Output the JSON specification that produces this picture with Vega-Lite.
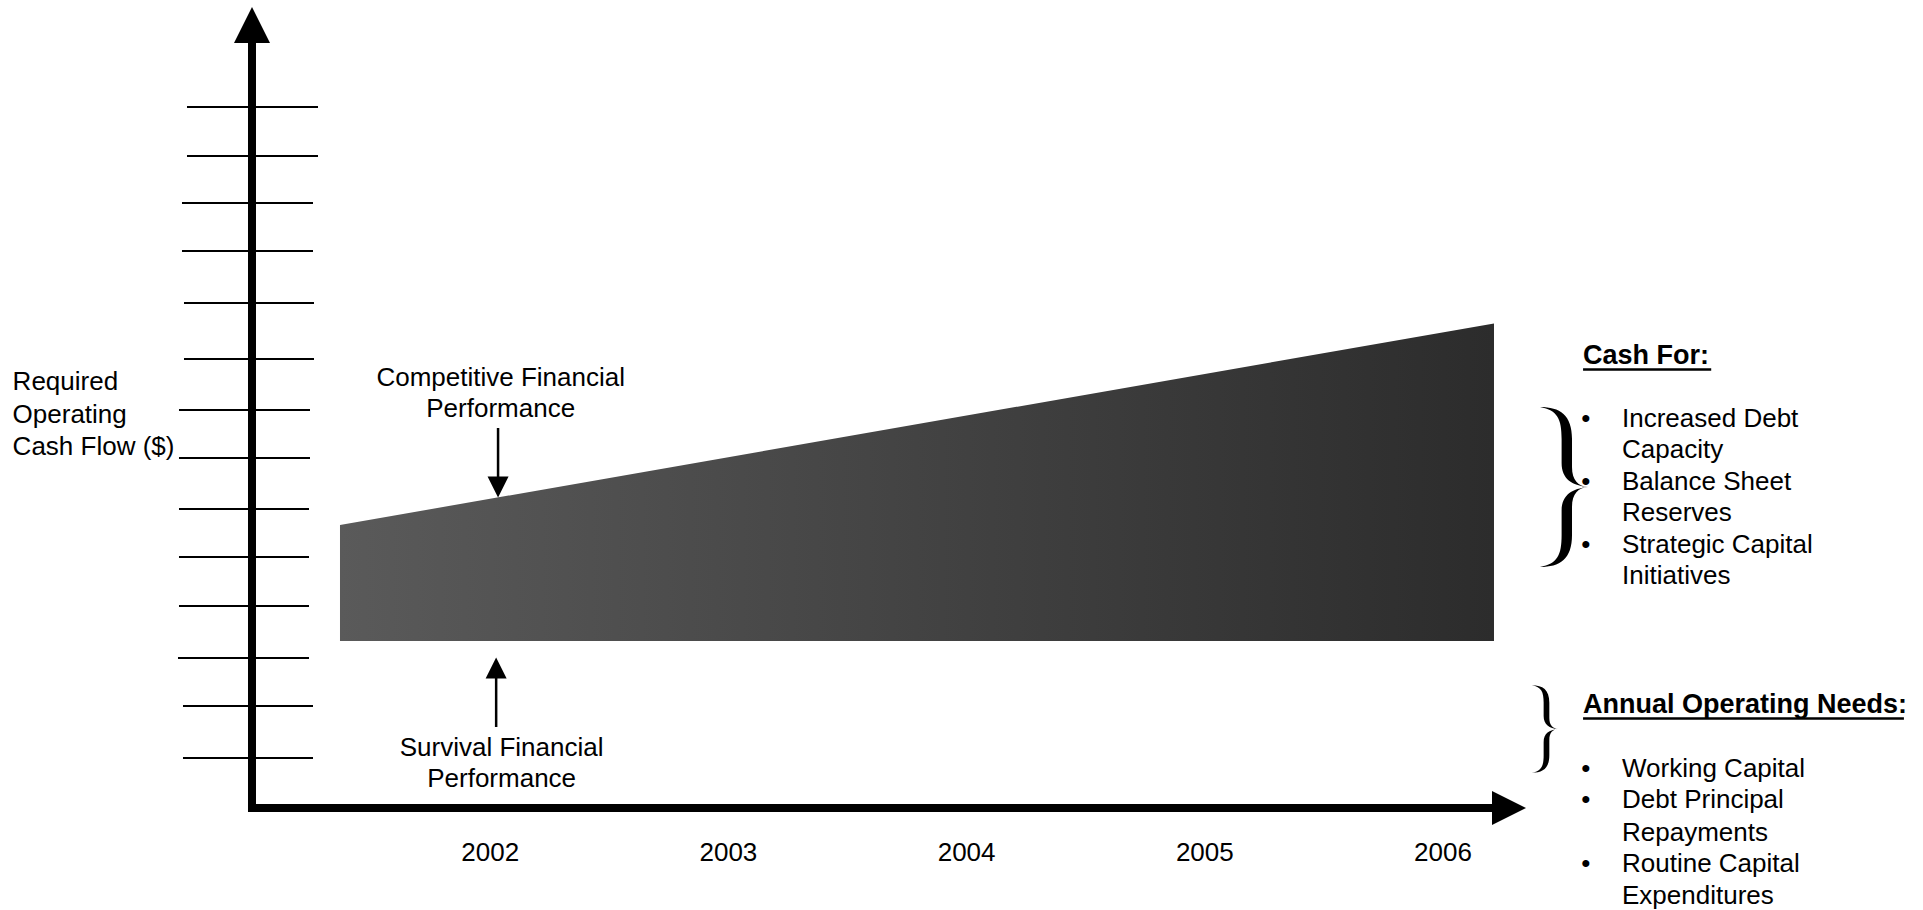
{
  "$schema": "https://vega.github.io/schema/vega-lite/v6.json",
  "width": 1923,
  "height": 910,
  "autosize": {"type": "fit", "contains": "padding"},
  "padding": 0,
  "background": "white",
  "config": {"view": {"stroke": null}},
  "datasets": {
    "ticks": [
      {"x": 2000.7271, "x2": 2001.2771, "y": 14.02},
      {"x": 2000.7271, "x2": 2001.2771, "y": 13.04},
      {"x": 2000.7061, "x2": 2001.2561, "y": 12.10},
      {"x": 2000.7061, "x2": 2001.2561, "y": 11.14},
      {"x": 2000.7145, "x2": 2001.2603, "y": 10.10},
      {"x": 2000.7145, "x2": 2001.2603, "y": 8.98},
      {"x": 2000.6935, "x2": 2001.2435, "y": 7.96},
      {"x": 2000.6935, "x2": 2001.2435, "y": 7.00},
      {"x": 2000.6935, "x2": 2001.2393, "y": 5.98},
      {"x": 2000.6935, "x2": 2001.2393, "y": 5.02},
      {"x": 2000.6935, "x2": 2001.2393, "y": 4.04},
      {"x": 2000.6893, "x2": 2001.2393, "y": 3.00},
      {"x": 2000.7103, "x2": 2001.2561, "y": 2.04},
      {"x": 2000.7103, "x2": 2001.2561, "y": 1.00}
    ],
    "band": [
      {"x": 2001.3694, "y": 5.66, "y2": 3.34},
      {"x": 2006.2141, "y": 9.69, "y2": 3.34}
    ],
    "axes": [
      {"x": 2001, "y": 0, "x2": 2001, "y2": 15.3},
      {"x": 2001, "y": 0, "x2": 2006.206, "y2": 0}
    ],
    "shafts": [
      {"x": 2002.033, "y": 7.6, "x2": 2002.033, "y2": 6.62},
      {"x": 2002.025, "y": 2.66, "x2": 2002.025, "y2": 1.62}
    ],
    "underlines": [
      {"x": 2006.588, "y": 8.77, "x2": 2007.126, "y2": 8.77},
      {"x": 2006.588, "y": 1.79, "x2": 2007.935, "y2": 1.79}
    ],
    "headUp": [{"x": 2001, "y": 15.66}],
    "headRight": [{"x": 2006.277, "y": 0}],
    "arrowDown": [{"x": 2002.033, "y": 6.42}],
    "arrowUp": [{"x": 2002.025, "y": 2.8}],
    "braceBig": [{"x": 2006.508, "y": 6.42}],
    "braceSmall": [{"x": 2006.428, "y": 1.58}],
    "centerText": [
      {"x": 2002.044, "y": 8.44, "text": "Competitive Financial"},
      {"x": 2002.044, "y": 7.82, "text": "Performance"},
      {"x": 2002.048, "y": 1.04, "text": "Survival Financial"},
      {"x": 2002.048, "y": 0.42, "text": "Performance"},
      {"x": 2002, "y": -1.06, "text": "2002"},
      {"x": 2003, "y": -1.06, "text": "2003"},
      {"x": 2004, "y": -1.06, "text": "2004"},
      {"x": 2005, "y": -1.06, "text": "2005"},
      {"x": 2006, "y": -1.06, "text": "2006"}
    ],
    "leftText": [
      {"x": 1999.995, "y": 8.36, "text": "Required"},
      {"x": 1999.995, "y": 7.70, "text": "Operating"},
      {"x": 1999.995, "y": 7.07, "text": "Cash Flow ($)"},
      {"x": 2006.7515, "y": 7.63, "text": "Increased Debt"},
      {"x": 2006.7515, "y": 7.01, "text": "Capacity"},
      {"x": 2006.7515, "y": 6.37, "text": "Balance Sheet"},
      {"x": 2006.7515, "y": 5.74, "text": "Reserves"},
      {"x": 2006.7515, "y": 5.10, "text": "Strategic Capital"},
      {"x": 2006.7515, "y": 4.48, "text": "Initiatives"},
      {"x": 2006.7515, "y": 0.62, "text": "Working Capital"},
      {"x": 2006.7515, "y": 0.0, "text": "Debt Principal"},
      {"x": 2006.7515, "y": -0.66, "text": "Repayments"},
      {"x": 2006.7515, "y": -1.28, "text": "Routine Capital"},
      {"x": 2006.7515, "y": -1.91, "text": "Expenditures"}
    ],
    "bullets": [
      {"x": 2006.58, "y": 7.63, "text": "•"},
      {"x": 2006.58, "y": 6.37, "text": "•"},
      {"x": 2006.58, "y": 5.10, "text": "•"},
      {"x": 2006.58, "y": 0.62, "text": "•"},
      {"x": 2006.58, "y": 0.0, "text": "•"},
      {"x": 2006.58, "y": -1.28, "text": "•"}
    ],
    "boldText": [
      {"x": 2006.588, "y": 8.88, "text": "Cash For:"},
      {"x": 2006.588, "y": 1.91, "text": "Annual Operating Needs:"}
    ]
  },
  "encoding": {
    "x": {"field": "x", "type": "quantitative", "scale": {"domain": [1999.94207, 2008.01511], "nice": false, "zero": false}, "axis": null},
    "y": {"field": "y", "type": "quantitative", "scale": {"domain": [-2.04, 16.16], "nice": false, "zero": false}, "axis": null}
  },
  "layer": [
    {
      "data": {"name": "band"},
      "mark": {"type": "area", "color": {"gradient": "linear", "x1": 0, "y1": 0, "x2": 1, "y2": 0, "stops": [{"offset": 0, "color": "#5a5a5a"}, {"offset": 1, "color": "#2c2c2c"}]}},
      "encoding": {"y2": {"field": "y2"}}
    },
    {
      "data": {"name": "ticks"},
      "mark": {"type": "rule", "color": "black", "strokeWidth": 2},
      "encoding": {"x2": {"field": "x2"}}
    },
    {
      "data": {"name": "axes"},
      "mark": {"type": "rule", "color": "black", "strokeWidth": 8, "strokeCap": "square"},
      "encoding": {"x2": {"field": "x2"}, "y2": {"field": "y2"}}
    },
    {
      "data": {"name": "shafts"},
      "mark": {"type": "rule", "color": "black", "strokeWidth": 2.5},
      "encoding": {"x2": {"field": "x2"}, "y2": {"field": "y2"}}
    },
    {
      "data": {"name": "underlines"},
      "mark": {"type": "rule", "color": "black", "strokeWidth": 2.5},
      "encoding": {"x2": {"field": "x2"}, "y2": {"field": "y2"}}
    },
    {
      "data": {"name": "headUp"},
      "mark": {"type": "point", "shape": "M0,-1L1,1L-1,1Z", "filled": true, "color": "black", "opacity": 1, "size": 1296},
      "encoding": {}
    },
    {
      "data": {"name": "headRight"},
      "mark": {"type": "point", "shape": "M1,0L-1,-1L-1,1Z", "filled": true, "color": "black", "opacity": 1, "size": 1156},
      "encoding": {}
    },
    {
      "data": {"name": "arrowDown"},
      "mark": {"type": "point", "shape": "M0,1L1,-1L-1,-1Z", "filled": true, "color": "black", "opacity": 1, "size": 441},
      "encoding": {}
    },
    {
      "data": {"name": "arrowUp"},
      "mark": {"type": "point", "shape": "M0,-1L1,1L-1,1Z", "filled": true, "color": "black", "opacity": 1, "size": 441},
      "encoding": {}
    },
    {
      "data": {"name": "braceBig"},
      "mark": {"type": "point", "shape": "M-0.3,-1C-0.05,-1,0.1,-0.9,0.1,-0.6L0.1,-0.25C0.1,-0.08,0.18,-0.01,0.3,0C0.18,0.01,0.1,0.08,0.1,0.25L0.1,0.6C0.1,0.9,-0.05,1,-0.3,1C-0.08,0.96,-0.03,0.85,-0.03,0.6L-0.03,0.3C-0.03,0.1,0.1,0.02,0.3,0C0.1,-0.02,-0.03,-0.1,-0.03,-0.3L-0.03,-0.6C-0.03,-0.85,-0.08,-0.96,-0.3,-1Z", "filled": true, "color": "black", "opacity": 1, "size": 25600},
      "encoding": {}
    },
    {
      "data": {"name": "braceSmall"},
      "mark": {"type": "point", "shape": "M-0.3,-1C-0.05,-1,0.1,-0.9,0.1,-0.6L0.1,-0.25C0.1,-0.08,0.18,-0.01,0.3,0C0.18,0.01,0.1,0.08,0.1,0.25L0.1,0.6C0.1,0.9,-0.05,1,-0.3,1C-0.08,0.96,-0.03,0.85,-0.03,0.6L-0.03,0.3C-0.03,0.1,0.1,0.02,0.3,0C0.1,-0.02,-0.03,-0.1,-0.03,-0.3L-0.03,-0.6C-0.03,-0.85,-0.08,-0.96,-0.3,-1Z", "filled": true, "color": "black", "opacity": 1, "size": 7656},
      "encoding": {}
    },
    {
      "data": {"name": "centerText"},
      "mark": {"type": "text", "align": "center", "baseline": "alphabetic", "font": "Liberation Sans", "fontSize": 26, "color": "black"},
      "encoding": {"text": {"field": "text"}}
    },
    {
      "data": {"name": "leftText"},
      "mark": {"type": "text", "align": "left", "baseline": "alphabetic", "font": "Liberation Sans", "fontSize": 26, "color": "black"},
      "encoding": {"text": {"field": "text"}}
    },
    {
      "data": {"name": "bullets"},
      "mark": {"type": "text", "align": "left", "baseline": "alphabetic", "font": "Liberation Sans", "fontSize": 26, "color": "black"},
      "encoding": {"text": {"field": "text"}}
    },
    {
      "data": {"name": "boldText"},
      "mark": {"type": "text", "align": "left", "baseline": "alphabetic", "font": "Liberation Sans", "fontSize": 27, "fontWeight": "bold", "color": "black"},
      "encoding": {"text": {"field": "text"}}
    }
  ]
}
